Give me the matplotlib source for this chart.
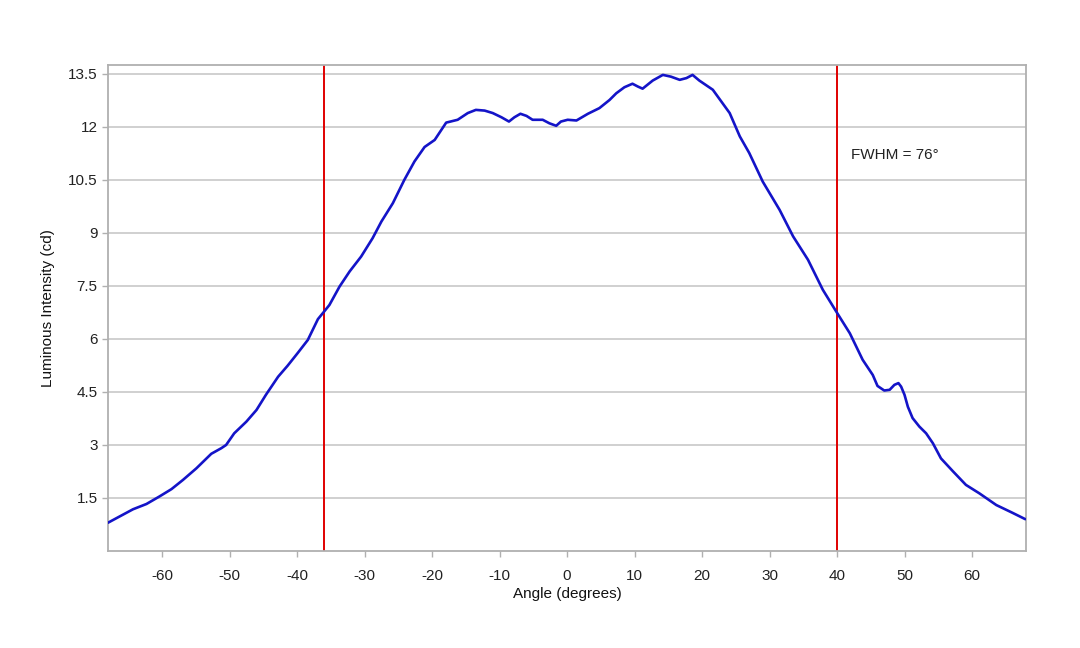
import numpy as np
import matplotlib
matplotlib.use("Agg")
import matplotlib.pyplot as plt

plt.rcParams['font.family'] = ['Liberation Sans', 'DejaVu Sans']
plt.rcParams['axes.unicode_minus'] = False

# 측정값 (사진에서 읽은 값)
angle = [-68.0, -64.3, -62.3, -60.4, -58.6, -56.9, -54.9, -52.7, -51.2, -50.5,
         -49.3, -47.5, -46.0, -44.6, -42.8, -41.4, -39.9, -38.4, -36.9, -36.0,
         -35.2, -33.7, -32.2, -30.5, -28.8, -27.5, -25.8, -24.1, -22.6, -21.1,
         -19.6, -17.9, -16.2, -14.7, -13.5, -12.2, -11.0, -9.7, -8.6, -7.8,
         -6.9, -6.0, -5.1, -3.6, -2.6, -1.6, -0.9, 0.1, 1.4, 3.1,
         4.8, 6.3, 7.3, 8.5, 9.7, 10.5, 11.2, 12.7, 14.2, 15.4,
         16.7, 17.7, 18.6, 19.6, 21.6, 24.1, 25.6, 27.0, 29.0, 31.5,
         33.5, 35.7, 37.9, 39.9, 41.9, 43.8, 45.3, 46.0, 47.0, 47.8,
         48.5, 49.1, 49.5, 50.0, 50.5, 51.2, 52.2, 53.2, 54.2, 55.4,
         57.2, 59.1, 61.1, 63.6, 66.0, 67.9]
intensity = [0.80, 1.18, 1.33, 1.54, 1.75, 2.01, 2.34, 2.75, 2.91, 3.00,
             3.33, 3.66, 3.99, 4.42, 4.93, 5.24, 5.60, 5.97, 6.56, 6.77,
             6.96, 7.48, 7.91, 8.33, 8.85, 9.32, 9.84, 10.50, 11.02, 11.43,
             11.63, 12.12, 12.20, 12.39, 12.48, 12.46, 12.39, 12.27, 12.15, 12.27,
             12.37, 12.31, 12.20, 12.20, 12.10, 12.03, 12.15, 12.20, 12.18, 12.37,
             12.53, 12.76, 12.95, 13.12, 13.22, 13.14, 13.08, 13.31, 13.47, 13.42,
             13.33, 13.38, 13.47, 13.31, 13.05, 12.39, 11.73, 11.26, 10.45, 9.65,
             8.90, 8.24, 7.39, 6.77, 6.16, 5.41, 4.98, 4.67, 4.54, 4.56,
             4.70, 4.75, 4.65, 4.42, 4.08, 3.76, 3.52, 3.33, 3.05, 2.62,
             2.25, 1.87, 1.63, 1.30, 1.08, 0.90]

fwhm_left = -36
fwhm_right = 40
fwhm_text = 'FWHM = 76°'

x_ticks = [-60, -50, -40, -30, -20, -10, 0, 10, 20, 30, 40, 50, 60]
y_ticks = [1.5, 3, 4.5, 6, 7.5, 9, 10.5, 12, 13.5]
y_tick_labels = ['1.5', '3', '4.5', '6', '7.5', '9', '10.5', '12', '13.5']

fig = plt.figure(figsize=(10.8, 6.48), dpi=100)
ax = fig.add_axes([0.1, 0.1497, 0.85, 0.75])

ax.plot(angle, intensity, color='#1414c8', linewidth=1.9, zorder=3,
        solid_joinstyle='round', solid_capstyle='round')
ax.axvline(fwhm_left, color='#e00000', linewidth=1.4, zorder=2)
ax.axvline(fwhm_right, color='#e00000', linewidth=1.4, zorder=2)
ax.text(42.1, 11.2, fwhm_text, fontsize=11, ha='left', va='center', color='#222222')

ax.set_xlim(-68, 68)
ax.set_ylim(0, 13.75)
ax.set_xticks(x_ticks)
ax.set_yticks(y_ticks)
ax.set_yticklabels(y_tick_labels)
ax.grid(axis='y', color='#c4c4c4', linewidth=1.1)
ax.set_axisbelow(True)

for s in ax.spines.values():
    s.set_color('#b0b0b0')
    s.set_linewidth(1.3)
ax.tick_params(colors='#b0b0b0', labelcolor='#222222', labelsize=11, length=4, width=1)
ax.tick_params(axis='x', pad=9)

ax.set_xlabel('Angle (degrees)', fontsize=11, color='#111111', labelpad=3)
ax.set_ylabel('Luminous Intensity (cd)', fontsize=11, color='#111111', labelpad=9)

plt.savefig('out.png', dpi=100)
